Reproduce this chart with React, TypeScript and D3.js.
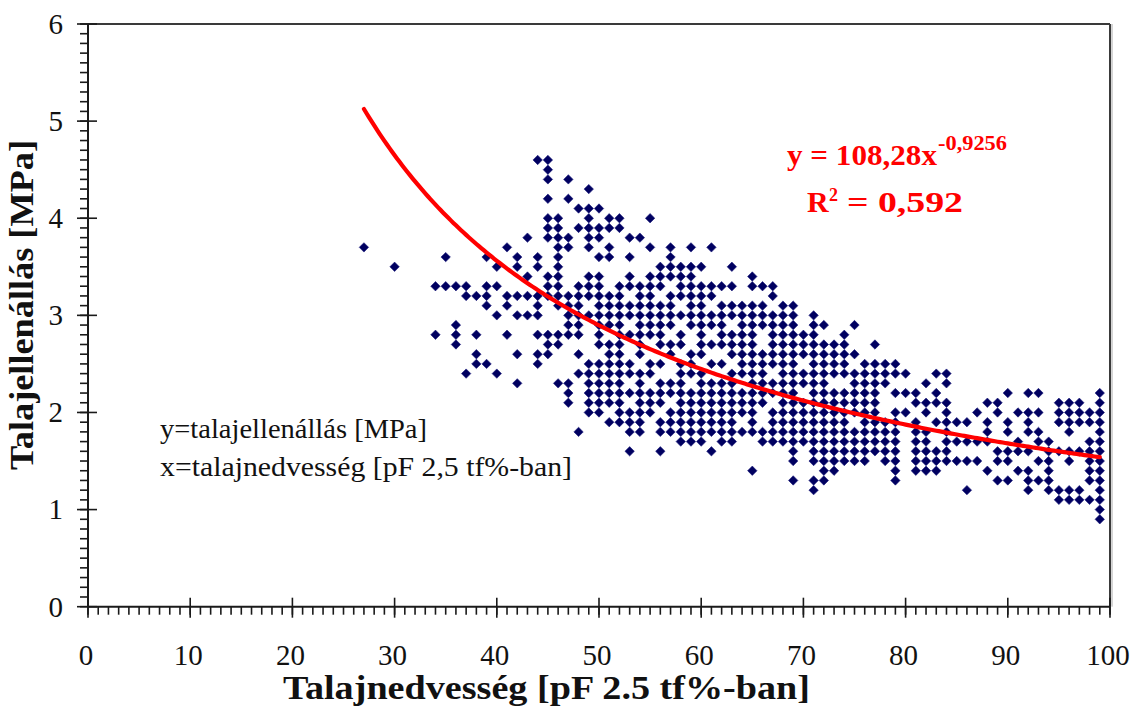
import React from "react";
import * as d3 from "d3";

// soil moisture (x, pF 2.5 tf%) columns and the soil resistance readings (MPa) found in each column
const moisture = [
  27, 30, 34, 35, 36, 37, 38, 39, 40, 41, 42, 43, 44, 45, 46, 47, 48, 49, 50,
  51, 52, 53, 54, 55, 56, 57, 58, 59, 60, 61, 62, 63, 64, 65, 66, 67, 68, 69, 70,
  71, 72, 73, 74, 75, 76, 77, 78, 79, 80, 81, 82, 83, 84, 85, 86, 87, 88, 89, 90,
  91, 92, 93, 94, 95, 96, 97, 98, 99,
];
const resistance: number[][] = [
  [3.7],
  [3.5],
  [3.3, 2.8],
  [3.6, 3.3],
  [3.3, 2.9, 2.8, 2.7],
  [3.3, 3.2, 2.4],
  [3.2, 2.8, 2.6, 2.5],
  [3.6, 3.3, 3.2, 3.1, 2.5],
  [3.5, 3.3, 3.0, 2.4],
  [3.7, 3.2, 3.1, 2.8],
  [3.6, 3.5, 3.2, 3.0, 2.6, 2.3],
  [3.8, 3.4, 3.2, 3.0],
  [4.6, 3.6, 3.5, 3.2, 3.1, 3.0, 2.8, 2.6, 2.5],
  [4.6, 4.5, 4.4, 4.2, 4.0, 3.9, 3.8, 3.4, 3.3, 3.2, 2.8, 2.7, 2.6],
  [4.0, 3.9, 3.8, 3.7, 3.6, 3.5, 3.4, 3.3, 3.2, 3.1, 2.8, 2.7, 2.3],
  [4.4, 4.2, 3.8, 3.7, 3.2, 3.1, 3.0, 2.9, 2.8, 2.3, 2.2, 2.1],
  [4.1, 3.9, 3.3, 3.2, 3.1, 3.0, 2.9, 2.8, 2.6, 2.4, 1.8],
  [4.3, 4.1, 4.0, 3.9, 3.8, 3.7, 3.4, 3.3, 3.2, 3.0, 2.5, 2.4, 2.3, 2.2, 2.1, 2.0],
  [4.1, 3.9, 3.8, 3.6, 3.4, 3.3, 3.2, 3.1, 3.0, 2.9, 2.8, 2.7, 2.5, 2.4, 2.3, 2.2, 2.1, 2.0],
  [4.0, 3.9, 3.7, 3.6, 3.2, 3.1, 3.0, 2.9, 2.7, 2.6, 2.5, 2.4, 2.3, 2.2, 2.1, 1.9],
  [4.0, 3.9, 3.3, 3.2, 3.1, 3.0, 2.9, 2.8, 2.7, 2.6, 2.5, 2.4, 2.3, 2.2, 2.1, 2.0, 1.9],
  [3.8, 3.6, 3.4, 3.3, 3.1, 3.0, 2.8, 2.5, 2.4, 2.2, 2.0, 1.9, 1.8, 1.6],
  [3.8, 3.3, 3.2, 3.1, 3.0, 2.9, 2.8, 2.7, 2.6, 2.4, 2.3, 2.2, 2.1, 2.0, 1.9, 1.8],
  [4.0, 3.7, 3.4, 3.3, 3.2, 3.1, 3.0, 2.9, 2.8, 2.5, 2.4, 2.2, 2.1, 2.0],
  [3.5, 3.4, 3.3, 3.1, 3.0, 2.9, 2.8, 2.7, 2.5, 2.3, 2.2, 2.1, 1.9, 1.8, 1.6],
  [3.7, 3.6, 3.5, 3.4, 3.2, 3.1, 3.0, 2.9, 2.7, 2.6, 2.3, 2.2, 2.0, 1.9, 1.8],
  [3.5, 3.4, 3.3, 3.2, 3.0, 2.8, 2.7, 2.5, 2.4, 2.3, 2.2, 2.1, 2.0, 1.9, 1.8, 1.7],
  [3.7, 3.5, 3.4, 3.3, 3.2, 3.1, 3.0, 2.9, 2.6, 2.5, 2.4, 2.2, 2.1, 2.0, 1.9, 1.8, 1.7],
  [3.5, 3.3, 3.2, 3.1, 3.0, 2.9, 2.8, 2.7, 2.6, 2.4, 2.3, 2.2, 2.1, 2.0, 1.9, 1.8, 1.7],
  [3.7, 3.3, 3.2, 3.0, 2.9, 2.7, 2.5, 2.3, 2.2, 2.1, 2.0, 1.9, 1.8, 1.6],
  [3.3, 3.1, 3.0, 2.9, 2.8, 2.7, 2.5, 2.3, 2.2, 2.1, 2.0, 1.9, 1.8, 1.7],
  [3.5, 3.3, 3.1, 3.0, 2.8, 2.7, 2.6, 2.4, 2.3, 2.2, 2.1, 2.0, 1.9, 1.8, 1.7],
  [3.1, 3.0, 2.9, 2.8, 2.7, 2.6, 2.5, 2.4, 2.2, 2.1, 2.0, 1.8],
  [3.4, 3.3, 3.1, 3.0, 2.9, 2.8, 2.7, 2.6, 2.5, 2.4, 2.3, 2.2, 2.1, 2.0, 1.9, 1.8, 1.4],
  [3.3, 3.1, 3.0, 2.9, 2.6, 2.5, 2.4, 2.3, 2.2, 2.1, 1.8, 1.7],
  [3.3, 3.2, 3.0, 2.9, 2.8, 2.7, 2.6, 2.5, 2.3, 2.2, 2.0, 1.9, 1.8, 1.7],
  [3.1, 3.0, 2.9, 2.8, 2.7, 2.6, 2.5, 2.4, 2.3, 2.2, 2.1, 2.0, 1.9, 1.8, 1.7],
  [3.1, 3.0, 2.9, 2.8, 2.7, 2.6, 2.5, 2.4, 2.3, 2.2, 2.1, 2.0, 1.9, 1.8, 1.7, 1.6, 1.5, 1.3],
  [2.8, 2.7, 2.6, 2.4, 2.3, 2.1, 2.0, 1.9, 1.8, 1.7],
  [3.0, 2.9, 2.8, 2.7, 2.6, 2.5, 2.4, 2.3, 2.2, 2.1, 2.0, 1.9, 1.8, 1.7, 1.6, 1.5, 1.3, 1.2],
  [2.9, 2.7, 2.6, 2.5, 2.4, 2.3, 2.2, 2.1, 2.0, 1.9, 1.8, 1.7, 1.6, 1.5, 1.4, 1.3],
  [2.7, 2.6, 2.5, 2.4, 2.2, 2.1, 2.0, 1.9, 1.8, 1.7, 1.6, 1.5, 1.4],
  [2.8, 2.7, 2.6, 2.5, 2.4, 2.2, 2.1, 2.0, 1.9, 1.8, 1.7, 1.6, 1.5],
  [2.9, 2.6, 2.4, 2.3, 2.2, 2.1, 2.0, 1.8, 1.7, 1.6, 1.5],
  [2.5, 2.4, 2.3, 2.2, 2.1, 2.0, 1.9, 1.8, 1.7, 1.6, 1.5],
  [2.7, 2.5, 2.4, 2.3, 2.2, 2.1, 2.0, 1.9, 1.8, 1.7, 1.6],
  [2.5, 2.4, 2.3, 1.9, 1.8, 1.7, 1.6, 1.5],
  [2.5, 2.4, 2.2, 2.0, 1.9, 1.8, 1.7, 1.6, 1.5, 1.4, 1.3],
  [2.4, 2.2, 2.0],
  [2.2, 2.1, 1.9, 1.8, 1.7, 1.6, 1.5, 1.4],
  [2.3, 2.1, 2.0, 1.8, 1.7, 1.6, 1.5, 1.4],
  [2.4, 2.2, 2.1, 1.9, 1.6, 1.5, 1.4],
  [2.4, 2.3, 2.1, 2.0, 1.9, 1.8, 1.7, 1.6, 1.5],
  [1.9, 1.7, 1.5],
  [1.9, 1.7, 1.5, 1.2],
  [2.0, 1.7, 1.5],
  [2.1, 1.9, 1.8, 1.7, 1.4],
  [2.1, 2.0, 1.6, 1.5, 1.3],
  [2.2, 1.9, 1.8, 1.6, 1.5, 1.3],
  [2.0, 1.7, 1.6, 1.4],
  [2.2, 2.0, 1.9, 1.8, 1.6, 1.4, 1.3, 1.2],
  [2.2, 2.0, 1.8, 1.7, 1.5, 1.3],
  [1.7, 1.6, 1.5, 1.4, 1.3, 1.2],
  [2.1, 2.0, 1.9, 1.6, 1.2, 1.1],
  [2.1, 2.0, 1.9, 1.8, 1.6, 1.5, 1.2, 1.1],
  [2.1, 2.0, 1.9, 1.6, 1.2, 1.1],
  [2.0, 1.9, 1.7, 1.6, 1.5, 1.4, 1.3, 1.1],
  [2.2, 2.1, 2.0, 1.9, 1.8, 1.7, 1.6, 1.5, 1.4, 1.3, 1.2, 1.1, 1.0, 0.9],
];

// power trendline y = a * x^b
const trendA = 108.28;
const trendB = -0.9256;
const trendRange = [27, 99];

const xTickLabels = ["0", "10", "20", "30", "40", "50", "60", "70", "80", "90", "100"];
const yTickLabels = ["0", "1", "2", "3", "4", "5", "6"];

const xTitle = "Talajnedvesség [pF 2.5 tf%-ban]";
const yTitle = "Talajellenállás [MPa]";
const noteLines = ["y=talajellenállás [MPa]", "x=talajnedvesség [pF 2,5 tf%-ban]"];
const equationMain = "y = 108,28x";
const equationExp = "-0,9256";
const rSquaredText = "= 0,592";

const W = 1135;
const H = 706;
const SERIF = "'Liberation Serif', 'Times New Roman', serif";

export default function App() {
  const x = d3.scaleLinear().domain([0, 100]).range([88, 1110]);
  const y = d3.scaleLinear().domain([0, 6]).range([606.7, 24]);

  const points = moisture.flatMap((mx, i) => resistance[i].map((r) => [mx, r] as [number, number]));

  const trendXs = d3.range(trendRange[0], trendRange[1] + 0.001, 0.25);
  const trendLine = d3
    .line<number>()
    .x((v) => x(v))
    .y((v) => y(trendA * Math.pow(v, trendB)))(trendXs);

  const xMinor = x.ticks(100);
  const yMinor = y.ticks(60);
  const xMajor = x.ticks(10);
  const yMajor = y.ticks(6);

  const diamond = "M0,-4.7L4.7,0L0,4.7L-4.7,0Z";
  const axisColor = "#1a1a1a";
  const textColor = "#111";

  return (
    <svg
      width={W}
      height={H}
      style={{ position: "absolute", left: 0, top: 0, background: "#fff" }}
      fontFamily={SERIF}
    >
      <rect x={0} y={0} width={W} height={H} fill="#fff" />
      {/* plot frame top/right */}
      <line x1={x(0)} x2={x(100)} y1={y(6)} y2={y(6)} stroke="#3a3a3a" strokeWidth={2} />
      <line x1={x(100)} x2={x(100)} y1={y(6)} y2={y(0)} stroke="#3a3a3a" strokeWidth={2} />
      <line x1={x(100) + 2} x2={x(100) + 2} y1={y(6)} y2={y(0)} stroke="#aaa" strokeWidth={1} />

      {/* minor ticks */}
      {xMinor.map((t) => (
        <line key={"xm" + t} x1={x(t)} x2={x(t)} y1={y(0)} y2={y(0) + 8} stroke={axisColor} strokeWidth={1.6} />
      ))}
      {yMinor.map((t) => (
        <line key={"ym" + t} x1={x(0) - 8} x2={x(0)} y1={y(t)} y2={y(t)} stroke={axisColor} strokeWidth={1.6} />
      ))}
      {/* major ticks */}
      {xMajor.map((t) => (
        <line key={"xM" + t} x1={x(t)} x2={x(t)} y1={y(0) - 9} y2={y(0) + 11} stroke={axisColor} strokeWidth={1.6} />
      ))}
      {yMajor.map((t) => (
        <line key={"yM" + t} x1={x(0) - 11} x2={x(0) + 9} y1={y(t)} y2={y(t)} stroke={axisColor} strokeWidth={1.6} />
      ))}
      {/* axes */}
      <line x1={x(0)} x2={x(100)} y1={y(0)} y2={y(0)} stroke={axisColor} strokeWidth={2} />
      <line x1={x(0)} x2={x(0)} y1={y(6)} y2={y(0)} stroke={axisColor} strokeWidth={2} />

      {/* tick labels */}
      {xMajor.map((t, i) => (
        <text key={"xl" + t} x={x(t) - 2} y={665} textAnchor="middle" fontSize={29} fill={textColor}>
          {xTickLabels[i]}
        </text>
      ))}
      {yMajor.map((t, i) => (
        <text key={"yl" + t} x={63} y={y(t)} dy="0.34em" textAnchor="end" fontSize={29} fill={textColor}>
          {yTickLabels[i]}
        </text>
      ))}

      {/* data points */}
      {points.map(([px, py], i) => (
        <path
          key={"p" + i}
          d={diamond}
          transform={`translate(${x(px)},${y(py)})`}
          fill="#000060"
          stroke="#1a1a7a"
          strokeWidth={0.6}
        />
      ))}

      {/* trendline */}
      <path d={trendLine ?? ""} fill="none" stroke="#ff0000" strokeWidth={4.2} strokeLinecap="round" />

      {/* equation */}
      <text x={787} y={165} fontSize={30} fontWeight="bold" fill="#ff0000" textLength={150} lengthAdjust="spacingAndGlyphs">
        {equationMain}
      </text>
      <text x={938} y={150} fontSize={20} fontWeight="bold" fill="#ff0000" textLength={69} lengthAdjust="spacingAndGlyphs">
        {equationExp}
      </text>
      <text x={807} y={212} fontSize={30} fontWeight="bold" fill="#ff0000">
        R
      </text>
      <text x={829} y={201} fontSize={18} fontWeight="bold" fill="#ff0000">
        2
      </text>
      <text x={847} y={212} fontSize={30} fontWeight="bold" fill="#ff0000" textLength={116} lengthAdjust="spacingAndGlyphs">
        {rSquaredText}
      </text>

      {/* notes */}
      <text x={160} y={438} fontSize={28} fill={textColor} textLength={267} lengthAdjust="spacingAndGlyphs">
        {noteLines[0]}
      </text>
      <text x={160} y={476} fontSize={28} fill={textColor} textLength={412} lengthAdjust="spacingAndGlyphs">
        {noteLines[1]}
      </text>

      {/* titles */}
      <text x={283} y={699} fontSize={33} fontWeight="bold" fill={textColor} textLength={527} lengthAdjust="spacingAndGlyphs">
        {xTitle}
      </text>
      <text
        transform={`translate(33,470) rotate(-90)`}
        fontSize={33}
        fontWeight="bold"
        fill={textColor}
        textLength={330}
        lengthAdjust="spacingAndGlyphs"
      >
        {yTitle}
      </text>
    </svg>
  );
}
